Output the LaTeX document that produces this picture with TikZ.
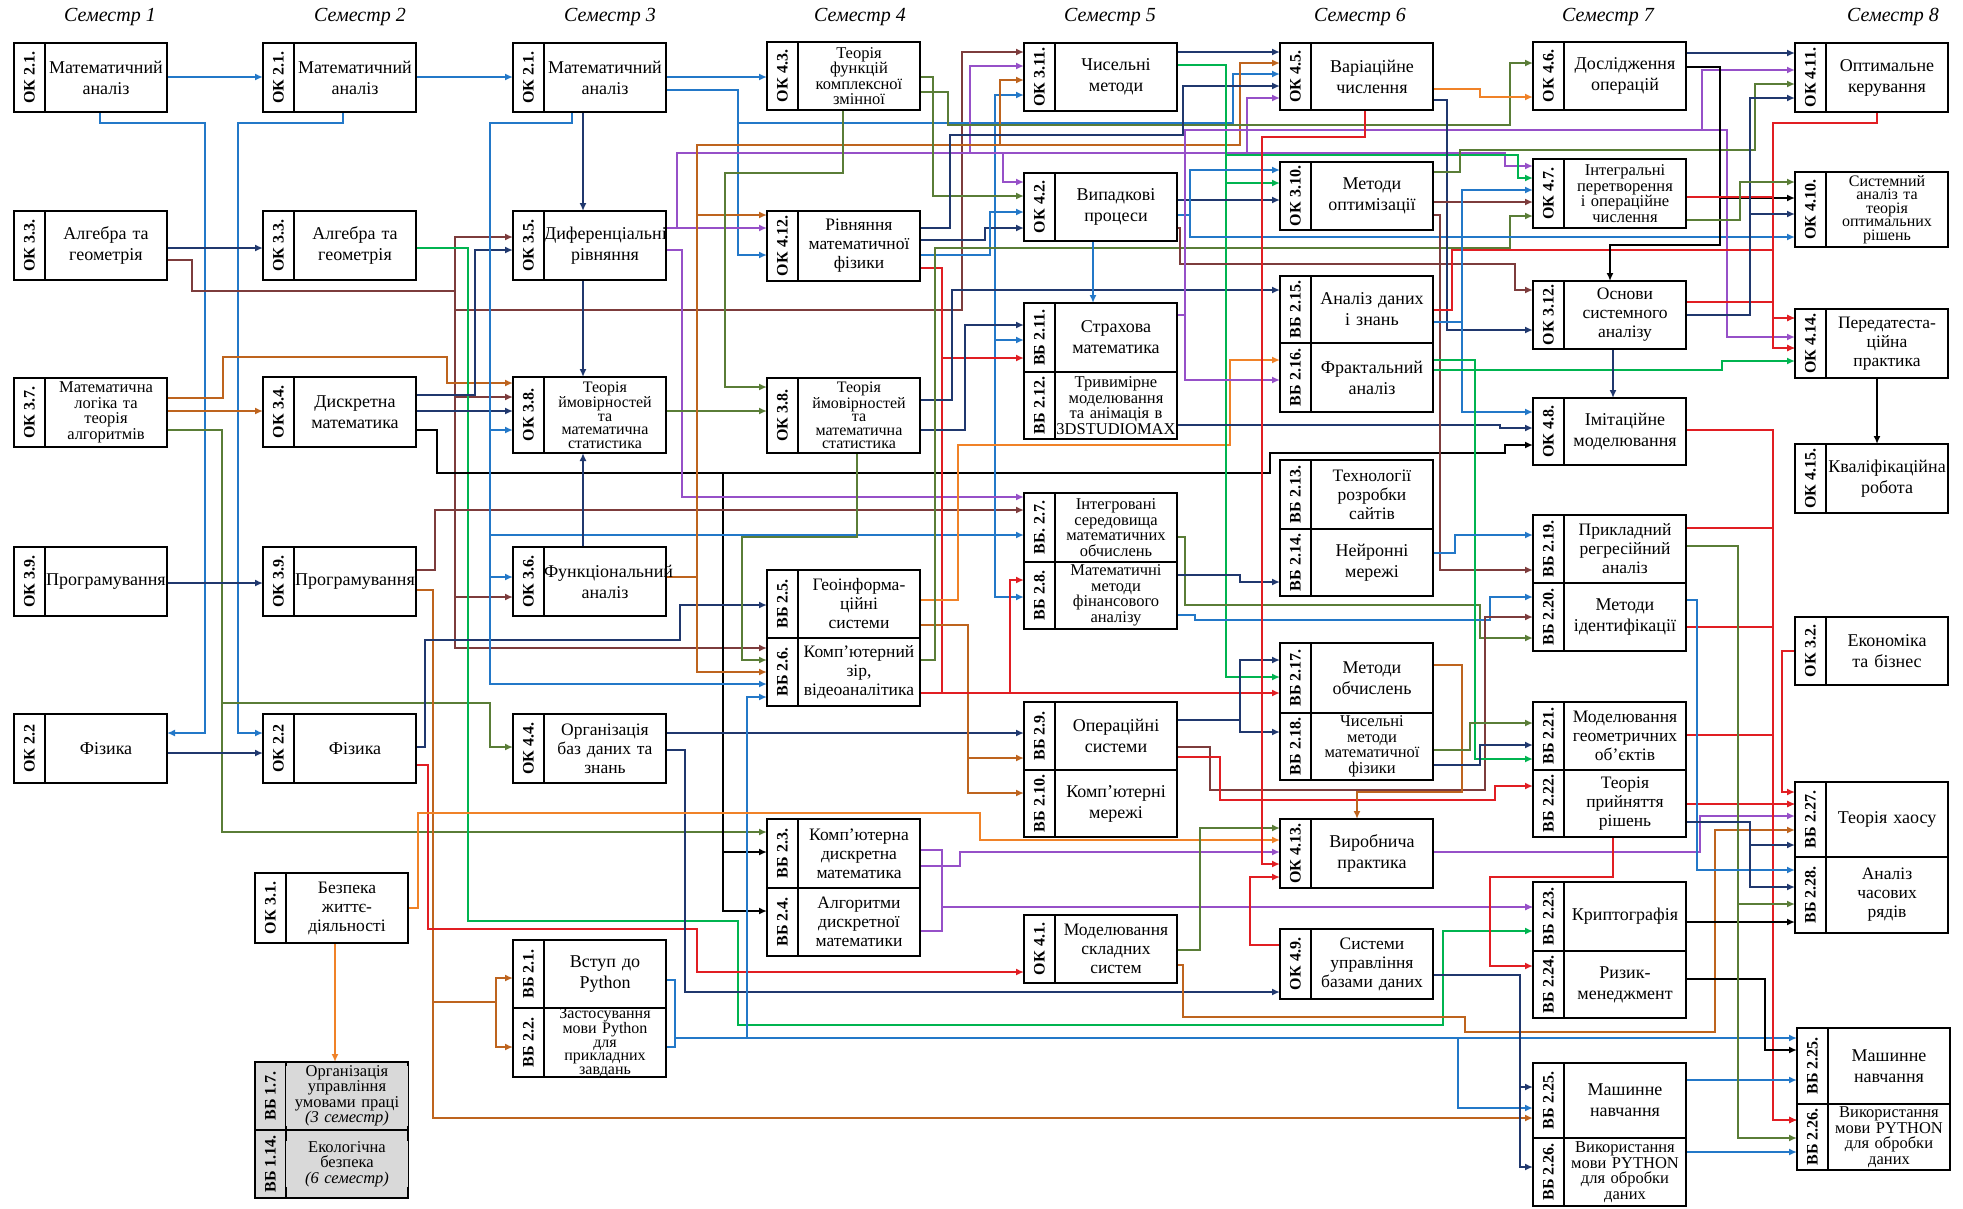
\documentclass[tikz,border=0pt]{standalone}
\usepackage{fontspec}
\setmainfont{Liberation Serif}
\usetikzlibrary{arrows.meta, calc}
\pgfdeclarelayer{background}
\pgfsetlayers{background,main}
\definecolor{cblue}{RGB}{35,120,200}
\definecolor{cnavy}{RGB}{32,56,110}
\definecolor{cmaroon}{RGB}{125,60,60}
\definecolor{cbrown}{RGB}{190,100,30}
\definecolor{corange}{RGB}{240,130,40}
\definecolor{cpurple}{RGB}{150,80,200}
\definecolor{cgreen}{RGB}{0,180,80}
\definecolor{colive}{RGB}{90,125,55}
\definecolor{cred}{RGB}{225,30,35}
\tikzset{
  cbox/.style={draw, fill=white, line width=2.6pt, minimum width=153pt,
    inner sep=0pt, outer sep=0pt, anchor=north west},
  ccode/.style={rotate=90, font=\fontsize{16}{16}\selectfont\bfseries, inner sep=0pt},
  ctext/.style={text width=122pt, align=center, inner sep=0pt,
    font=\fontsize{18}{21}\selectfont},
  mid/.style={font=\fontsize{17.5}{19}\selectfont},
  dense/.style={font=\fontsize{16.5}{15.5}\selectfont},
  denser/.style={font=\fontsize{16}{13.5}\selectfont},
  greybox/.style={fill=black!15},
  sem/.style={font=\fontsize{20}{20}\selectfont\itshape},
  link/.style={line width=2pt, -{Latex[length=8pt,width=7pt]}}
}
% course box: [style], name, left x, top y, bottom y, code, title
\newcommand{\course}[7][]{%
  \node[cbox, minimum height={(#5-#4)*1pt}, #1] (#2) at (#3,#4) {};
  \draw[line width=2.6pt] ([xshift=31pt]#2.north west) -- ([xshift=31pt]#2.south west);
  \node[ccode] at ([xshift=15.5pt]#2.west) {#6};
  \node[ctext, #1] at ([xshift=15.5pt]#2.center) {#7};
}

\begin{document}
\begin{tikzpicture}[x=1pt, y=-1pt]
  \useasboundingbox (0,0) rectangle (1963,1208);

  %% Semester headers
  \foreach \x/\s in {110/1, 360/2, 610/3, 860/4, 1110/5, 1360/6, 1608/7, 1893/8}
    \node[sem] at (\x,17) {Семестр \s};

  %% Semester 1
  \course{a1}{14}{43}{112}{ОК 2.1.}{Математичний\\аналіз}
  \course{a2}{14}{211}{280}{ОК 3.3.}{Алгебра та\\геометрія}
  \course[dense]{a3}{14}{378}{447}{ОК 3.7.}{Математична\\логіка та\\теорія\\алгоритмів}
  \course{a4}{14}{547}{616}{ОК 3.9.}{Програмування}
  \course{a5}{14}{714}{783}{ОК 2.2}{Фізика}
  \course[mid]{sz}{255}{873}{943}{ОК 3.1.}{Безпека\\життє-\\діяльності}
  \course[greybox,dense]{vb17}{255}{1062}{1130}{ВБ 1.7.}{Організація\\управління\\умовами праці\\\textit{(3 семестр)}}
  \course[greybox,dense]{vb114}{255}{1130}{1198}{ВБ 1.14.}{Екологічна\\безпека\\\textit{(6 семестр)}}

  %% Semester 2
  \course{b1}{263}{43}{112}{ОК 2.1.}{Математичний\\аналіз}
  \course{b2}{263}{211}{280}{ОК 3.3.}{Алгебра та\\геометрія}
  \course{b3}{263}{377}{447}{ОК 3.4.}{Дискретна\\математика}
  \course{b4}{263}{547}{616}{ОК 3.9.}{Програмування}
  \course{b5}{263}{714}{783}{ОК 2.2}{Фізика}

  %% Semester 3
  \course{c1}{513}{43}{112}{ОК 2.1.}{Математичний\\аналіз}
  \course{c2}{513}{211}{280}{ОК 3.5.}{Диференціальні\\рівняння}
  \course[denser]{c3}{513}{377}{453}{ОК 3.8.}{Теорія\\ймовірностей\\та\\математична\\статистика}
  \course{c4}{513}{547}{616}{ОК 3.6.}{Функціональний\\аналіз}
  \course[mid]{c5}{513}{714}{783}{ОК 4.4.}{Організація\\баз даних та\\знань}
  \course{c6}{513}{940}{1008}{ВБ 2.1.}{Вступ до\\Python}
  \course[denser]{c7}{513}{1008}{1077}{ВБ 2.2.}{Застосування\\мови Python\\для\\прикладних\\завдань}

  %% Semester 4
  \course[dense]{d1}{767}{42}{110}{ОК 4.3.}{Теорія\\функцій\\комплексної\\змінної}
  \course[mid]{d2}{767}{211}{281}{ОК 4.12.}{Рівняння\\математичної\\фізики}
  \course[denser]{d3}{767}{378}{453}{ОК 3.8.}{Теорія\\ймовірностей\\та\\математична\\статистика}
  \course[mid]{d4}{767}{570}{638}{ВБ 2.5.}{Геоінформа-\\ційні\\системи}
  \course[mid]{d5}{767}{638}{706}{ВБ 2.6.}{Комп'ютерний\\зір,\\відеоаналітика}
  \course[mid]{d6}{767}{819}{888}{ВБ 2.3.}{Комп'ютерна\\дискретна\\математика}
  \course[mid]{d7}{767}{888}{956}{ВБ 2.4.}{Алгоритми\\дискретної\\математики}

  %% Semester 5
  \course{e1}{1024}{43}{111}{ОК 3.11.}{Чисельні\\методи}
  \course{e2}{1024}{173}{241}{ОК 4.2.}{Випадкові\\процеси}
  \course{e3}{1024}{303}{372}{ВБ 2.11.}{Страхова\\математика}
  \course[dense]{e4}{1024}{372}{439}{ВБ 2.12.}{Тривимірне\\моделювання\\та анімація в\\3DSTUDIOMAX}
  \course[dense]{e5}{1024}{493}{562}{ВБ. 2.7.}{Інтегровані\\середовища\\математичних\\обчислень}
  \course[dense]{e6}{1024}{562}{629}{ВБ 2.8.}{Математичні\\методи\\фінансового\\аналізу}
  \course{e7}{1024}{702}{770}{ВБ 2.9.}{Операційні\\системи}
  \course{e8}{1024}{770}{837}{ВБ 2.10.}{Комп'ютерні\\мережі}
  \course[mid]{e9}{1024}{915}{983}{ОК 4.1.}{Моделювання\\складних\\систем}

  %% Semester 6
  \course{f1}{1280}{43}{110}{ОК 4.5.}{Варіаційне\\числення}
  \course{f2}{1280}{162}{230}{ОК 3.10.}{Методи\\оптимізації}
  \course{f3}{1280}{276}{343}{ВБ 2.15.}{Аналіз даних\\і знань}
  \course{f4}{1280}{343}{412}{ВБ 2.16.}{Фрактальний\\аналіз}
  \course[mid]{f5}{1280}{460}{529}{ВБ 2.13.}{Технології\\розробки\\сайтів}
  \course{f6}{1280}{529}{596}{ВБ 2.14.}{Нейронні\\мережі}
  \course{f7}{1280}{643}{713}{ВБ 2.17.}{Методи\\обчислень}
  \course[dense]{f8}{1280}{713}{780}{ВБ 2.18.}{Чисельні\\методи\\математичної\\фізики}
  \course{f9}{1280}{819}{888}{ОК 4.13.}{Виробнича\\практика}
  \course[mid]{f10}{1280}{929}{999}{ОК 4.9.}{Системи\\управління\\базами даних}

  %% Semester 7
  \course{g1}{1533}{42}{110}{ОК 4.6.}{Дослідження\\операцій}
  \course[dense]{g2}{1533}{159}{228}{ОК 4.7.}{Інтегральні\\перетворення\\і операційне\\числення}
  \course[mid]{g3}{1533}{281}{349}{ОК 3.12.}{Основи\\системного\\аналізу}
  \course{g4}{1533}{398}{465}{ОК 4.8.}{Імітаційне\\моделювання}
  \course[mid]{g5}{1533}{515}{583}{ВБ 2.19.}{Прикладний\\регресійний\\аналіз}
  \course{g6}{1533}{583}{651}{ВБ 2.20.}{Методи\\ідентифікації}
  \course[mid]{g7}{1533}{702}{770}{ВБ 2.21.}{Моделювання\\геометричних\\об'єктів}
  \course[mid]{g8}{1533}{770}{837}{ВБ 2.22.}{Теорія\\прийняття\\рішень}
  \course{g9}{1533}{882}{951}{ВБ 2.23.}{Криптографія}
  \course{g10}{1533}{951}{1018}{ВБ 2.24.}{Ризик-\\менеджмент}
  \course{g11}{1533}{1063}{1138}{ВБ 2.25.}{Машинне\\навчання}
  \course[dense]{g12}{1533}{1138}{1206}{ВБ 2.26.}{Використання\\мови PYTHON\\для обробки\\даних}

  %% Semester 8
  \course{h1}{1795}{43}{112}{ОК 4.11.}{Оптимальне\\керування}
  \course[denser]{h2}{1795}{172}{247}{ОК 4.10.}{Системний\\аналіз та\\теорія\\оптимальних\\рішень}
  \course[mid]{h3}{1795}{309}{378}{ОК 4.14.}{Передатеста-\\ційна\\практика}
  \course{h4}{1795}{444}{513}{ОК 4.15.}{Кваліфікаційна\\робота}
  \course{h5}{1795}{617}{685}{ОК 3.2.}{Економіка\\та бізнес}
  \course{h6}{1795}{782}{857}{ВБ 2.27.}{Теорія хаосу}
  \course[mid]{h7}{1795}{857}{933}{ВБ 2.28.}{Аналіз\\часових\\рядів}
  \course{h8}{1797}{1028}{1104}{ВБ 2.25.}{Машинне\\навчання}
  \course[dense]{h9}{1797}{1104}{1170}{ВБ 2.26.}{Використання\\мови PYTHON\\для обробки\\даних}

  \begin{pgfonlayer}{background}
    %% From semester 1
    \draw[link,cblue] (a1.east |- 0,77) -- (b1.west |- 0,77);
    \draw[link,cblue] (a1.south -| 100,0) -- (100,123) -| (205,733) -- (a5.east |- 0,733);
    \draw[link,cblue] (b1.south -| 343,0) -- (343,123) -| (238,733) -- (b5.west |- 0,733);
    \draw[link,cnavy] (a2.east |- 0,248) -- (b2.west |- 0,248);
    \draw[link,cmaroon] (a2.east |- 0,260) -| (192,291) -| (455,237) -- (c2.west |- 0,237);
    \draw[link,cmaroon] (a2.east |- 0,260) -| (192,291) -| (455,397) -- (c3.west |- 0,397);
    \draw[link,cmaroon] (a2.east |- 0,260) -| (192,291) -| (455,597) -- (c4.west |- 0,597);
    \draw[link,cmaroon] (a2.east |- 0,260) -| (192,291) -| (455,648) -- (d5.west |- 0,648);
    \draw[link,cmaroon] (a2.east |- 0,260) -| (192,291) -| (455,310) -| (962,52) -- (e1.west |- 0,52);
    \draw[link,cbrown] (a3.east |- 0,398) -| (223,357) -| (447,383) -- (c3.west |- 0,383);
    \draw[link,cbrown] (a3.east |- 0,411) -- (b3.west |- 0,411);
    \draw[link,colive] (a3.east |- 0,430) -| (222,703) -| (490,747) -- (c5.west |- 0,747);
    \draw[link,colive] (a3.east |- 0,430) -| (222,832) -- (d6.west |- 0,832);
    \draw[link,cnavy] (a4.east |- 0,583) -- (b4.west |- 0,583);
    \draw[link,cnavy] (a5.east |- 0,753) -- (b5.west |- 0,753);

    %% From semester 2
    \draw[link,cblue] (b1.east |- 0,77) -- (c1.west |- 0,77);
    \draw[link,cgreen] (b2.east |- 0,248) -| (468,921) -| (738,1025) -| (1443,931) -- (g9.west |- 0,931);
    \draw[link,cnavy] (b3.east |- 0,395) -| (475,250) -- (c2.west |- 0,250);
    \draw[link,cnavy] (b3.east |- 0,411) -- (c3.west |- 0,411);
    \draw[link,black] (b3.east |- 0,430) -| (437,473) -| (723,852) -- (d6.west |- 0,852);
    \draw[link,black] (b3.east |- 0,430) -| (437,473) -| (723,911) -- (d7.west |- 0,911);
    \draw[link,black] (b3.east |- 0,430) -| (437,473) -| (1270,453) -| (1505,445) -- (g4.west |- 0,445);
    \draw[link,cmaroon] (b4.east |- 0,570) -| (435,510) -- (e5.west |- 0,510);
    \draw[link,cbrown] (b4.east |- 0,590) -| (433,1002) -| (496,978) -- (c6.west |- 0,978);
    \draw[link,cbrown] (b4.east |- 0,590) -| (433,1002) -| (496,1047) -- (c7.west |- 0,1047);
    \draw[link,cbrown] (b4.east |- 0,590) -| (433,1118) -- (g11.west |- 0,1118);
    \draw[link,cnavy] (b5.east |- 0,747) -| (425,640) -| (680,605) -- (d4.west |- 0,605);
    \draw[link,cred] (b5.east |- 0,765) -| (428,929) -| (697,972) -- (e9.west |- 0,972);

    %% From semester 3
    \draw[link,cblue] (c1.east |- 0,77) -- (d1.west |- 0,77);
    \draw[link,cblue] (c1.east |- 0,90) -| (738,255) -- (d2.west |- 0,255);
    \draw[link,cblue] (c1.east |- 0,90) -| (738,123) -| (995,95) -- (e1.west |- 0,95);
    \draw[link,cblue] (c1.east |- 0,90) -| (738,123) -| (995,340) -- (e3.west |- 0,340);
    \draw[link,cblue] (c1.east |- 0,90) -| (738,123) -| (995,597) -- (e6.west |- 0,597);
    \draw[link,cblue] (c1.east |- 0,90) -| (738,123) -| (1233,74) -- (f1.west |- 0,74);
    \draw[link,cnavy] (c1.south -| 583,0) -- (c2.north -| 583,0);
    \draw[link,cblue] (c1.south -| 572,0) -- (572,123) -| (490,430) -- (c3.west |- 0,430);
    \draw[link,cblue] (c1.south -| 572,0) -- (572,123) -| (490,577) -- (c4.west |- 0,577);
    \draw[link,cblue] (c1.south -| 572,0) -- (572,123) -| (490,535) -- (e5.west |- 0,535);
    \draw[link,cblue] (c1.south -| 572,0) -- (572,123) -| (490,684) -- (d5.west |- 0,684);
    \draw[link,cnavy] (c2.south -| 583,0) -- (c3.north -| 583,0);
    \draw[link,cnavy] (c4.north -| 583,0) -- (c3.south -| 583,0);
    \draw[link,cpurple] (c2.east |- 0,228) -- (d2.west |- 0,228);
    \draw[link,cpurple] (c2.east |- 0,228) -| (677,153) -| (970,66) -- (e1.west |- 0,66);
    \draw[link,cpurple] (c2.east |- 0,228) -| (677,153) -| (1003,182) -- (e2.west |- 0,182);
    \draw[link,cpurple] (c2.east |- 0,228) -| (677,153) -| (1247,98) -- (f1.west |- 0,98);
    \draw[link,cpurple] (c2.east |- 0,228) -| (677,153) -| (1505,166) -- (g2.west |- 0,166);
    \draw[link,cpurple] (c2.east |- 0,250) -| (682,497) -- (e5.west |- 0,497);
    \draw[link,colive] (c3.east |- 0,411) -- (d3.west |- 0,411);
    \draw[link,cbrown] (c4.east |- 0,577) -| (697,215) -- (d2.west |- 0,215);
    \draw[link,cbrown] (c4.east |- 0,577) -| (697,145) -| (1000,80) -- (e1.west |- 0,80);
    \draw[link,cbrown] (c4.east |- 0,577) -| (697,145) -| (1240,63) -- (f1.west |- 0,63);
    \draw[link,cbrown] (c4.east |- 0,577) -| (697,672) -- (d5.west |- 0,672);
    \draw[link,cnavy] (c5.east |- 0,733) -- (e7.west |- 0,733);
    \draw[link,cnavy] (c5.east |- 0,750) -| (685,992) -- (f10.west |- 0,992);
    \draw[link,cblue] (c6.east |- 0,980) -| (675,1038) -| (1458,1108) -- (g11.west |- 0,1108);
    \draw[link,cblue] (c7.east |- 0,1047) -| (675,1038) -| (747,697) -- (d5.west |- 0,697);
    \draw[link,cblue] (c7.east |- 0,1047) -| (675,1038) -- (h8.west |- 0,1038);
    \draw[link,corange] (sz.east |- 0,908) -| (418,813) -| (980,840) -- (f9.west |- 0,840);
    \draw[link,corange] (sz.south -| 335,0) -- (vb17.north -| 335,0);

    %% From semester 4
    \draw[link,colive] (d1.south -| 843,0) -- (843,173) -| (725,387) -- (d3.west |- 0,387);
    \draw[link,colive] (d1.east |- 0,77) -| (933,196) -- (e2.west |- 0,196);
    \draw[link,colive] (d1.east |- 0,92) -| (948,125) -| (1510,63) -- (g1.west |- 0,63);
    \draw[link,colive] (d3.south -| 857,0) -- (857,537) -| (742,660) -- (d5.west |- 0,660);
    \draw[link,cnavy] (d2.east |- 0,228) -| (950,135) -| (1183,86) -- (f1.west |- 0,86);
    \draw[link,cred] (d2.east |- 0,268) -| (942,693) -- (f7.west |- 0,693);
    \draw[link,cred] (d2.east |- 0,268) -| (942,358) -- (e3.west |- 0,358);
    \draw[link,cnavy] (d2.east |- 0,240) -| (985,228) -- (e2.west |- 0,228);
    \draw[link,cblue] (d2.east |- 0,255) -| (990,212) -- (e2.west |- 0,212);
    \draw[link,cnavy] (d3.east |- 0,400) -| (952,290) -- (f3.west |- 0,290);
    \draw[link,cnavy] (d3.east |- 0,430) -| (965,325) -- (e3.west |- 0,325);
    \draw[link,corange] (d4.east |- 0,600) -| (958,445) -| (1230,360) -- (f4.west |- 0,360);
    \draw[link,cbrown] (d4.east |- 0,625) -| (968,758) -- (e7.west |- 0,758);
    \draw[link,cbrown] (d4.east |- 0,625) -| (968,793) -- (e8.west |- 0,793);
    \draw[link,colive] (d5.east |- 0,660) -| (935,248) -| (1510,216) -- (g2.west |- 0,216);
    \draw[link,cred] (d5.east |- 0,693) -| (1010,580) -- (e6.west |- 0,580);
    \draw[link,cpurple] (d6.east |- 0,850) -| (942,907) -- (g9.west |- 0,907);
    \draw[link,cpurple] (d7.east |- 0,931) -| (942,907) -- (g9.west |- 0,907);
    \draw[link,cpurple] (d6.east |- 0,866) -| (960,852) -- (f9.west |- 0,852);

    %% From semester 5
    \draw[link,cnavy] (e1.east |- 0,52) -- (f1.west |- 0,52);
    \draw[link,cgreen] (e1.east |- 0,65) -| (1226,183) -- (f2.west |- 0,183);
    \draw[link,cgreen] (e1.east |- 0,65) -| (1226,677) -- (f7.west |- 0,677);
    \draw[link,cgreen] (e1.east |- 0,65) -| (1226,155) -| (1518,178) -- (g2.west |- 0,178);
    \draw[link,cnavy] (e2.east |- 0,200) -- (f2.west |- 0,200);
    \draw[link,cblue] (e2.south -| 1093,0) -- (e3.north -| 1093,0);
    \draw[link,cblue] (e2.east |- 0,215) -| (1190,237) -- (h2.west |- 0,237);
    \draw[link,cblue] (e2.east |- 0,215) -| (1190,170) -- (f2.west |- 0,170);
    \draw[link,cmaroon] (e2.east |- 0,228) -| (1180,264) -| (1515,290) -- (g3.west |- 0,290);
    \draw[link,cpurple] (e3.east |- 0,315) -| (1185,130) -| (1727,337) -- (h3.west |- 0,337);
    \draw[link,cpurple] (e3.east |- 0,315) -| (1185,130) -| (1702,70) -- (h1.west |- 0,70);
    \draw[link,cpurple] (e3.east |- 0,315) -| (1185,380) -- (f4.west |- 0,380);
    \draw[link,cnavy] (e4.east |- 0,425) -| (1500,428) -- (g4.west |- 0,428);
    \draw[link,colive] (e5.east |- 0,537) -| (1185,605) -| (1480,638) -- (g6.west |- 0,638);
    \draw[link,cnavy] (e6.east |- 0,575) -| (1240,582) -- (f6.west |- 0,582);
    \draw[link,cblue] (e6.east |- 0,615) -| (1195,620) -| (1490,597) -- (g6.west |- 0,597);
    \draw[link,cnavy] (e7.east |- 0,720) -| (1240,660) -- (f7.west |- 0,660);
    \draw[link,cnavy] (e7.east |- 0,720) -| (1240,732) -- (f8.west |- 0,732);
    \draw[link,cmaroon] (e7.east |- 0,747) -| (1210,790) -| (1485,617) -- (g6.west |- 0,617);
    \draw[link,cred] (e7.east |- 0,757) -| (1220,800) -| (1495,786) -- (g8.west |- 0,786);
    \draw[link,colive] (e9.east |- 0,950) -| (1200,828) -- (f9.west |- 0,828);
    \draw[link,cbrown] (e9.east |- 0,965) -| (1183,1017) -| (1465,1032) -| (1715,830) -- (h6.west |- 0,830);

    %% From semester 6
    \draw[link,cred] (f1.south -| 1365,0) -- (1365,137) -| (1262,864) -- (f9.west |- 0,864);
    \draw[link,cred] (f10.west |- 0,945) -| (1250,877) -- (f9.west |- 0,877);
    \draw[link,corange] (f1.east |- 0,89) -| (1480,97) -- (g1.west |- 0,97);
    \draw[link,cnavy] (f1.east |- 0,100) -| (1447,330) -- (g3.west |- 0,330);
    \draw[link,colive] (f2.east |- 0,172) -| (1460,150) -| (1755,84) -- (h1.west |- 0,84);
    \draw[link,cmaroon] (f2.east |- 0,202) -- (g2.west |- 0,202);
    \draw[link,cmaroon] (f2.east |- 0,215) -| (1440,570) -- (g5.west |- 0,570);
    \draw[link,cred] (f3.east |- 0,310) -| (1452,250) -| (1773,348) -- (h3.west |- 0,348);
    \draw[link,cblue] (f3.east |- 0,322) -| (1462,412) -- (g4.west |- 0,412);
    \draw[link,cblue] (f3.east |- 0,322) -| (1462,190) -- (g2.west |- 0,190);
    \draw[link,cgreen] (f4.east |- 0,360) -| (1475,759) -- (g7.west |- 0,759);
    \draw[link,cgreen] (f4.east |- 0,370) -| (1722,361) -- (h3.west |- 0,361);
    \draw[link,cblue] (f6.east |- 0,553) -| (1455,535) -- (g5.west |- 0,535);
    \draw[link,cbrown] (f7.east |- 0,665) -| (1462,792) -| (f9.north -| 1357,0);
    \draw[link,colive] (f8.east |- 0,750) -| (1470,723) -- (g7.west |- 0,723);
    \draw[link,cnavy] (f8.east |- 0,765) -| (1480,745) -- (g7.west |- 0,745);
    \draw[link,cpurple] (f9.east |- 0,852) -| (1700,816) -- (h6.west |- 0,816);
    \draw[link,cnavy] (f10.east |- 0,975) -| (1520,1087) -- (g11.west |- 0,1087);
    \draw[link,cnavy] (f10.east |- 0,975) -| (1520,1167) -- (g12.west |- 0,1167);

    %% From semester 7
    \draw[link,cnavy] (g1.east |- 0,53) -- (h1.west |- 0,53);
    \draw[link,black] (g1.east |- 0,67) -| (1720,245) -| (g3.north -| 1610,0);
    \draw[link,black] (g1.east |- 0,67) -| (1720,198) -- (h2.west |- 0,198);
    \draw[link,cred] (h1.south -| 1877,0) -- (1877,123) -| (1773,318) -- (h3.west |- 0,318);
    \draw[link,cred] (g2.east |- 0,197) -| (1773,348) -- (h3.west |- 0,348);
    \draw[link,cred] (g3.east |- 0,302) -| (1773,318) -- (h3.west |- 0,318);
    \draw[link,black] (h3.south -| 1877,0) -- (h4.north -| 1877,0);
    \draw[link,cnavy] (g3.south -| 1613,0) -- (g4.north -| 1613,0);
    \draw[link,cnavy] (g3.east |- 0,315) -| (1750,214) -- (h2.west |- 0,214);
    \draw[link,cnavy] (g3.east |- 0,315) -| (1750,98) -- (h1.west |- 0,98);
    \draw[link,colive] (g2.east |- 0,220) -| (1740,182) -- (h2.west |- 0,182);
    \draw[link,cred] (g4.east |- 0,430) -| (1773,1120) -- (h9.west |- 0,1120);
    \draw[link,cred] (g5.east |- 0,528) -| (1773,1120) -- (h9.west |- 0,1120);
    \draw[link,cred] (g6.east |- 0,627) -| (1773,1120) -- (h9.west |- 0,1120);
    \draw[link,cred] (g7.east |- 0,735) -| (1773,804) -- (h6.west |- 0,804);
    \draw[link,cred] (g8.east |- 0,804) -- (h6.west |- 0,804);
    \draw[link,cred] (h5.west |- 0,651) -| (1782,792) -- (h6.west |- 0,792);
    \draw[link,cred] (g8.south -| 1613,0) -- (1613,877) -| (1490,966) -- (g10.west |- 0,966);
    \draw[link,black] (g9.east |- 0,922) -- (h7.west |- 0,922);
    \draw[link,black] (g10.east |- 0,979) -| (1765,1050) -- (h8.west |- 0,1050);
    \draw[link,cblue] (g11.east |- 0,1080) -- (h8.west |- 0,1080);
    \draw[link,cblue] (g12.east |- 0,1152) -- (h9.west |- 0,1152);
    \draw[link,colive] (g5.east |- 0,546) -| (1738,1138) -- (h9.west |- 0,1138);
    \draw[link,colive] (g5.east |- 0,546) -| (1738,904) -- (h7.west |- 0,904);
    \draw[link,cblue] (g6.east |- 0,600) -| (1697,870) -- (h7.west |- 0,870);
    \draw[link,cnavy] (g8.east |- 0,822) -| (1750,887) -- (h7.west |- 0,887);
    \draw[link,cnavy] (g8.east |- 0,822) -| (1750,845) -- (h6.west |- 0,845);
  \end{pgfonlayer}
\end{tikzpicture}
\end{document}
